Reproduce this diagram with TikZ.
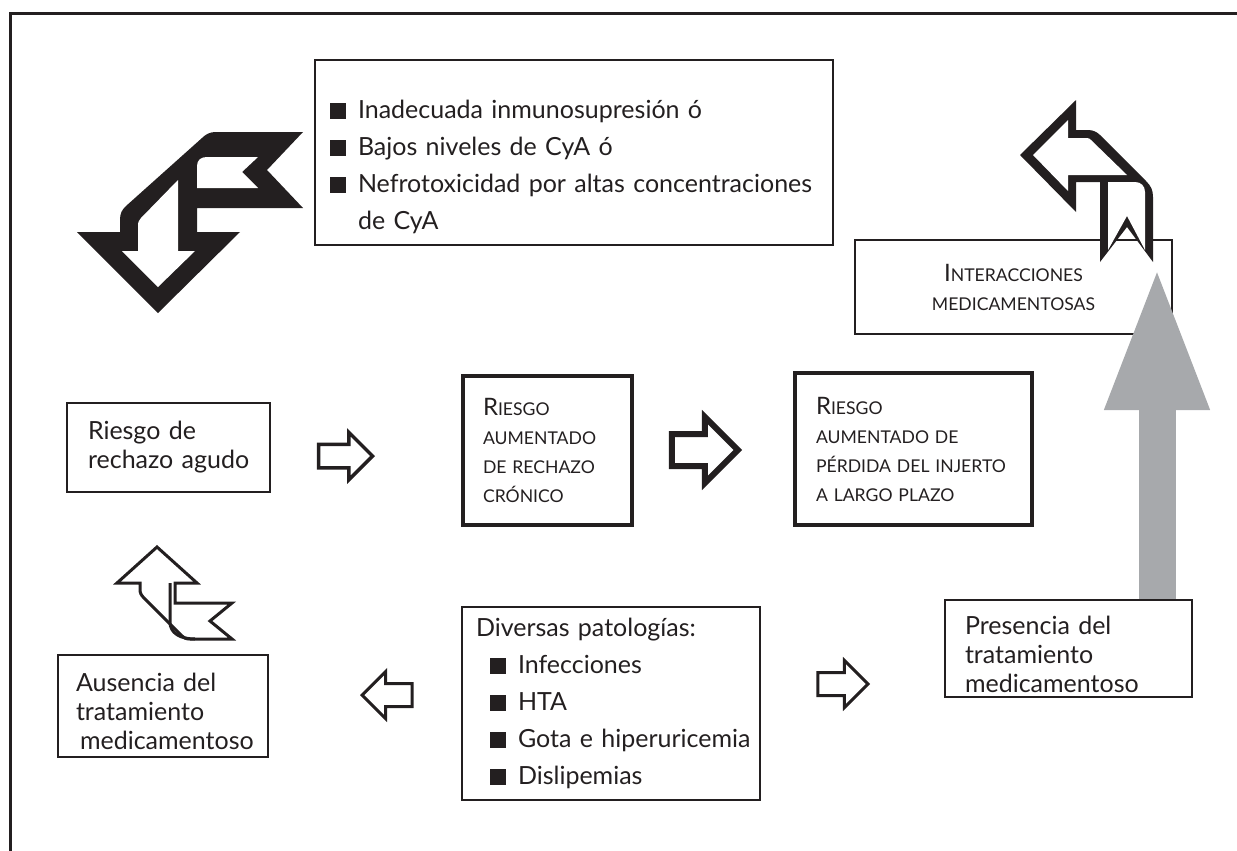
\documentclass[tikz,border=0pt]{standalone}
\usepackage{fontspec}
\setmainfont{Lato}
\usepackage{tikz}
\usetikzlibrary{arrows.meta}
\usetikzlibrary{shapes.arrows}
\definecolor{inkcolor}{HTML}{231F20}
\definecolor{arrowgray}{HTML}{A7A9AC}
\newcommand{\sqbullet}{\rule{8pt}{8pt}\hspace{6pt}}
\newcommand{\firstcap}[1]{{\fontsize{12}{14.5}\selectfont #1}}

\begin{document}
\begin{tikzpicture}[x=0.5pt,y=-0.5pt,
  box/.style={draw=inkcolor,line width=1pt,text=inkcolor,align=left,inner ysep=0pt,font=\fontsize{12.5}{14.5}\selectfont},
  listbox/.style={box,font=\fontsize{12.5}{18.5}\selectfont},
  capsbox/.style={box,font=\fontsize{8.8}{14.5}\selectfont},
  riskbox/.style={capsbox,line width=2.25pt},
  blockarrow/.style={single arrow,draw=inkcolor,fill=white,inner xsep=0pt,anchor=tip},
  ribbon/.style={fill=inkcolor},
  hole/.style={fill=white}]
\useasboundingbox (0,0) rectangle (1237,851);
%% frame, cut by the page on the right and at the bottom
\draw[inkcolor,line width=1.5pt] (1237,13) -- (10,13) -- (10,851);

%% boxes
\node[listbox,minimum width=259pt,minimum height=92.5pt,inner xsep=7.5pt,text width=244pt] (causas) at (574,152.5)
  {\rule{0pt}{24pt}\sqbullet Inadecuada inmunosupresión ó\\ \sqbullet Bajos niveles de CyA ó\\
   \mbox{\sqbullet Nefrotoxicidad por altas concentraciones}\\ \hspace*{14pt}de CyA};
\node[box,minimum width=101.5pt,minimum height=44.5pt,inner xsep=10.5pt,text width=80.5pt] (agudo) at (168.5,447.5)
  {Riesgo de\\ \mbox{rechazo agudo}};
\node[riskbox,minimum width=84.5pt,minimum height=74.5pt,inner xsep=10pt,text width=64.5pt] (cronico) at (547.5,450.5)
  {\firstcap{R}IESGO\\ AUMENTADO\\ \mbox{DE RECHAZO}\\ CRÓNICO};
\node[riskbox,minimum width=118.5pt,minimum height=76pt,inner xsep=10.5pt,text width=97.5pt] (perdida) at (913.5,449)
  {\firstcap{R}IESGO\\ AUMENTADO DE\\ \mbox{PÉRDIDA DEL INJERTO}\\ A LARGO PLAZO};
\node[capsbox,align=center,minimum width=158.5pt,minimum height=47pt,inner xsep=12.5pt,text width=133.5pt] (interac) at (1013.5,287)
  {\firstcap{I}NTERACCIONES\\ MEDICAMENTOSAS};
\node[box,minimum width=105pt,minimum height=51pt,inner xsep=9pt,text width=87pt] (ausencia) at (163,706)
  {\rule{0pt}{15pt}Ausencia del\\ tratamiento\\ \mbox{\hspace*{2pt}medicamentoso}};
\node[listbox,minimum width=149pt,minimum height=96.5pt,inner xsep=7pt,text width=135pt] (patologias) at (611,703.5)
  {Diversas patologías:\\ \mbox{\hspace*{7pt}\sqbullet Infecciones}\\ \mbox{\hspace*{7pt}\sqbullet HTA}\\
   \mbox{\hspace*{7pt}\sqbullet Gota e hiperuricemia}\\ \mbox{\hspace*{7pt}\sqbullet Dislipemias}};
\node[box,minimum width=123.5pt,minimum height=48.5pt,inner xsep=10pt,text width=103.5pt] (presencia) at (1068.5,648.5)
  {\rule{0pt}{15pt}Presencia del\\ tratamiento\\ \mbox{medicamentoso}};

%% grey arrow from the treatment up to the interactions
\coordinate (gtip) at (1157,262);
\draw[arrowgray,line width=18.5pt,-{Triangle[length=74pt,width=46.5pt]}] (presencia.north -| gtip) -- (gtip);

%% block arrows
\node[blockarrow,line width=1.75pt,minimum height=27pt,minimum width=22pt,inner ysep=5pt,single arrow head extend=6pt] (a1) at (375,456) {};
\node[blockarrow,line width=3pt,minimum height=33pt,minimum width=30pt,inner ysep=6.5pt,single arrow head extend=8.5pt] (a2) at (742,450) {};
\node[blockarrow,line width=1.5pt,minimum height=25pt,minimum width=22pt,inner ysep=5pt,single arrow head extend=6pt,shape border rotate=180] (a3) at (360,695) {};
\node[blockarrow,line width=1.5pt,minimum height=25pt,minimum width=22pt,inner ysep=5pt,single arrow head extend=6pt] (a4) at (870,684) {};

%% ribbon arrow, top left
\fill[ribbon] (158,313) -- (240,232) -- (197,232) -- (197,208) -- (303,208) -- (267,170) -- (303,132) -- (216,132)
  .. controls (210,132) and (206,134) .. (202,138) -- (126,206) .. controls (122,210) and (120,213) .. (120,220)
  -- (120,232) -- (77,232) -- cycle;
\fill[hole] (122,251) -- (138,251) -- (138,226) .. controls (138,222) and (139,220) .. (141,218) -- (178,180)
  -- (178,251) -- (195,251) -- (158,287) -- cycle;
\fill[hole] (197,188) -- (197,166) .. controls (197,160) and (201,157) .. (207,157) -- (258,157) -- (242,172)
  -- (258,188) -- cycle;

%% ribbon arrow, top right
\fill[ribbon] (1020,155) -- (1076,100) -- (1076,130) -- (1088,130) .. controls (1093,130) and (1097,132) .. (1100,135)
  -- (1146,181) .. controls (1151,186) and (1153,190) .. (1153,197) -- (1153,262) -- (1127,227) -- (1100,262)
  -- (1100,182) -- (1076,182) -- (1076,212) -- cycle;
\fill[hole] (1033,155) -- (1068,120) -- (1068,138) -- (1087,138) .. controls (1089,138) and (1090,139) .. (1091,140)
  -- (1127,175) -- (1068,175) -- (1068,191) -- cycle;
\fill[hole] (1108,182) -- (1135,182) .. controls (1141,182) and (1145,186) .. (1145,192) -- (1145,250) -- (1127,216)
  -- (1108,250) -- cycle;

%% ribbon arrow, bottom left
\draw[inkcolor,fill=white,line width=1.5pt] (157,547) -- (197,583) -- (175,583) -- (175,603) -- (232,603) -- (210,621)
  -- (232,639) -- (190,639) .. controls (186,639) and (184,638) .. (181,635) -- (144,598)
  .. controls (141,595) and (140,593) .. (140,589) -- (140,583) -- (117,583) -- cycle;
\draw[inkcolor,line width=1.5pt] (170,583) -- (170,622) .. controls (170,633) and (180,639) .. (195,639);
\end{tikzpicture}
\end{document}
